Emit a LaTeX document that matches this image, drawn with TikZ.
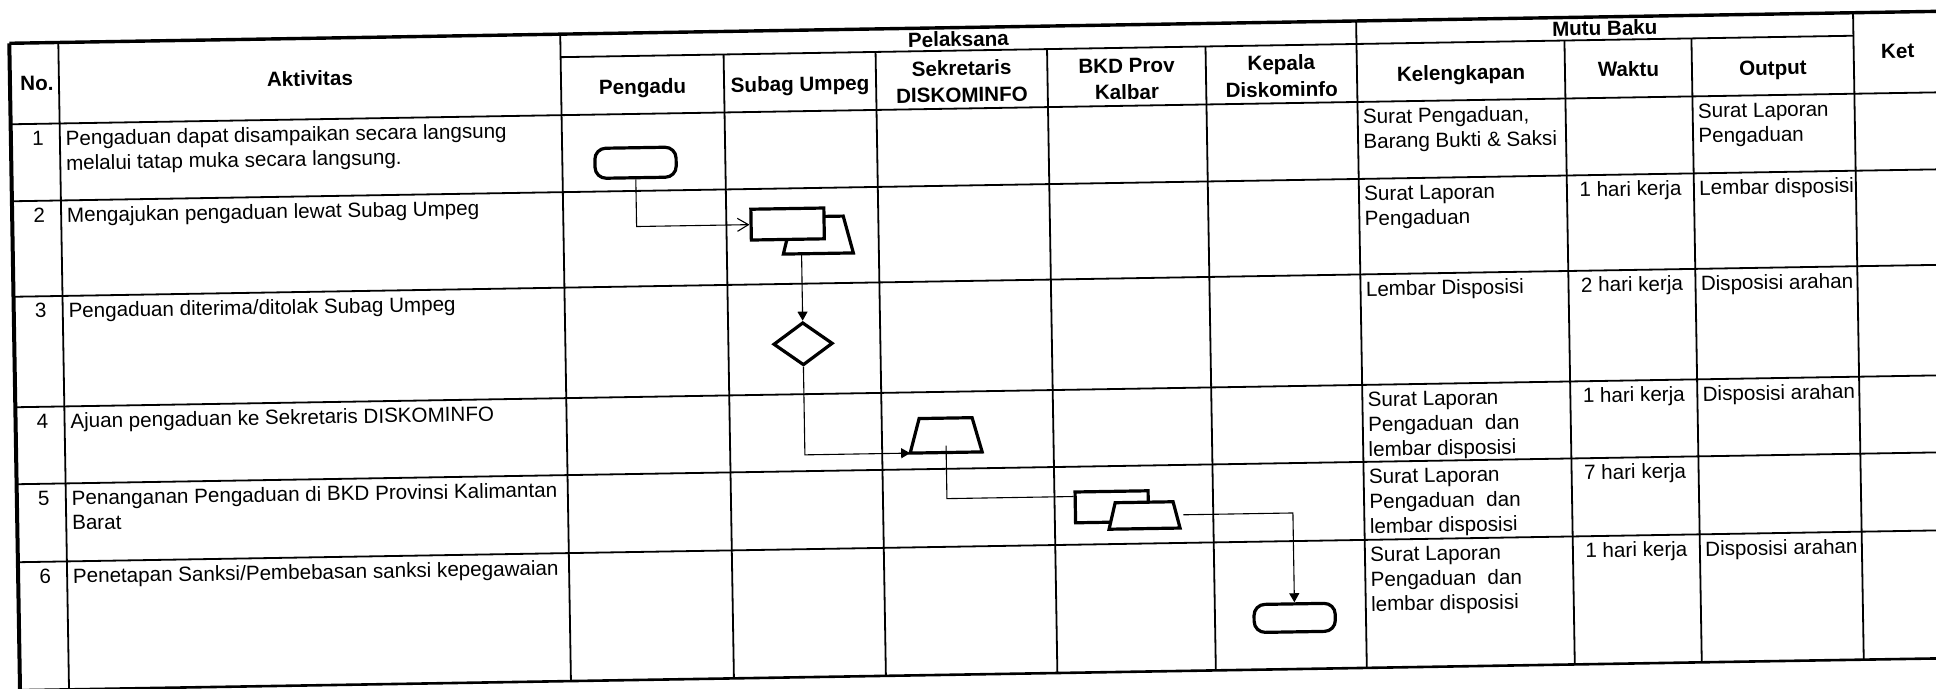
\documentclass[tikz,border=0pt]{standalone}
\usepackage{fontspec}
\setmainfont{Liberation Sans}
\usetikzlibrary{shapes.geometric,arrows.meta,calc}
\newcommand\celltxt{\fontsize{10.3}{12.4}\selectfont}
\newcommand\hdrtxt{\fontsize{10.3}{13.3}\selectfont\bfseries}
\begin{document}
\begin{tikzpicture}[x=0.5pt,y=-0.5pt,
  grid/.style={line width=0.9pt},
  shp/.style={draw,line width=1.6pt,fill=white,inner sep=0pt},
  shpline/.style={draw,line width=1.6pt,fill=white},
  term/.style={shp,rectangle,rounded corners=5.5pt,minimum width=40.6pt,minimum height=15pt},
  docbox/.style={shp,rectangle,minimum width=36.5pt,minimum height=15.4pt},
  tbox/.style={rectangle,inner sep=0pt,outer sep=0pt},
  decision/.style={shp,diamond,minimum width=29.7pt,minimum height=21.5pt},
  conn/.style={line width=0.55pt},
  openarr/.style={conn,-{Straight Barb[length=5.5pt,width=6.5pt]}},
  fillarr/.style={conn,-{Triangle[length=4.5pt,width=5pt]}},
  cell/.style={anchor=north west,inner sep=0pt,align=left,font=\celltxt},
  ctr/.style={anchor=base,inner sep=0pt,font=\celltxt},
  hdr/.style={anchor=base,inner sep=0pt,font=\hdrtxt},
  hdrtwo/.style={anchor=north,inner sep=0pt,align=center,font=\hdrtxt}]
\useasboundingbox (0,0) rectangle (1936,689);
\fill[white] (0,0) rectangle (1936,689);
\clip (0,0) rectangle (1936,689);
\begin{scope}[shift={(9.3,43.3)},rotate=0.95,transform shape]
  % ---------- table grid ----------
  \draw[line width=2pt] (0,0) -- (0,647);
  \draw[line width=1.7pt] (0,0) -- (1950,0);
  \draw[line width=1.3pt] (0,647) -- (1950,647);
  \foreach \c in {49,551,1347,1844} \draw[grid] (\c,0) -- (\c,647);
  \foreach \c in {714,866,1037.5,1196,1555,1682} \draw[grid] (\c,23) -- (\c,647);
  \draw[grid] (551,23) -- (1844,23);
  \foreach \r in {81,158,253.5,364,441,519} \draw[grid] (0,\r) -- (1950,\r);

  % ---------- headers ----------
  \node[hdr] (hno) at (27,47.5) {No.};
  \node[hdr] (hakt) at (300,47.5) {Aktivitas};
  \node[hdr] (hpel) at (949,19) {Pelaksana};
  \node[hdr] (hmutu) at (1595.5,18.5) {Mutu Baku};
  \node[hdr] (hket) at (1888,46) {Ket};
  \node[hdr] (hpgd) at (632.5,61) {Pengadu};
  \node[hdr] (hsub) at (790,61) {Subag Umpeg};
  \node[hdrtwo] (hsek) at (951.75,28.9) {\strut Sekretaris\\DISKOMINFO};
  \node[hdrtwo] (hbkd) at (1116.75,28.9) {\strut BKD Prov\\Kalbar};
  \node[hdrtwo] (hkep) at (1271.5,28.9) {\strut Kepala\\Diskominfo};
  \node[hdr] (hkel) at (1451,61) {Kelengkapan};
  \node[hdr] (hwak) at (1618.5,60) {Waktu};
  \node[hdr] (hout) at (1763,61) {Output};

  % ---------- row numbers ----------
  \node[ctr] (n1) at (27,102.5) {1};
  \node[ctr] (n2) at (27,179.5) {2};
  \node[ctr] (n3) at (27,275) {3};
  \node[ctr] (n4) at (27,385.5) {4};
  \node[ctr] (n5) at (27,462.5) {5};
  \node[ctr] (n6) at (27,540.5) {6};

  % ---------- activities ----------
  \node[cell] (a1) at (54.5,85.1) {\strut Pengaduan dapat disampaikan secara langsung\\melalui tatap muka secara langsung.};
  \node[cell] (a2) at (54.5,162.1) {\strut Mengajukan pengaduan lewat Subag Umpeg};
  \node[cell] (a3) at (54.5,257.6) {\strut Pengaduan diterima/ditolak Subag Umpeg};
  \node[cell] (a4) at (54.5,368.1) {\strut Ajuan pengaduan ke Sekretaris DISKOMINFO};
  \node[cell] (a5) at (54.5,445.1) {\strut Penanganan Pengaduan di BKD Provinsi Kalimantan\\Barat};
  \node[cell] (a6) at (54.5,523.1) {\strut Penetapan Sanksi/Pembebasan sanksi kepegawaian};

  % ---------- Kelengkapan ----------
  \node[cell] (k1) at (1352,85.1) {\strut Surat Pengaduan,\\Barang Bukti \& Saksi};
  \node[cell] (k2) at (1352,162.1) {\strut Surat Laporan\\Pengaduan};
  \node[cell] (k3) at (1352,257.6) {\strut Lembar Disposisi};
  \node[cell] (k4) at (1352,368.1) {\strut Surat Laporan\\Pengaduan\ \ dan\\lembar disposisi};
  \node[cell] (k5) at (1352,445.1) {\strut Surat Laporan\\Pengaduan\ \ dan\\lembar disposisi};
  \node[cell] (k6) at (1352,523.1) {\strut Surat Laporan\\Pengaduan\ \ dan\\lembar disposisi};

  % ---------- Waktu ----------
  \node[ctr] (w2) at (1618.5,179.5) {1 hari kerja};
  \node[ctr] (w3) at (1618.5,275) {2 hari kerja};
  \node[ctr] (w4) at (1618.5,385.5) {1 hari kerja};
  \node[ctr] (w5) at (1618.5,462.5) {7 hari kerja};
  \node[ctr] (w6) at (1618.5,540.5) {1 hari kerja};

  % ---------- Output ----------
  \node[cell] (o1) at (1687,85.1) {\strut Surat Laporan\\Pengaduan};
  \node[cell] (o2) at (1687,162.1) {\strut Lembar disposisi};
  \node[cell] (o3) at (1687,257.6) {\strut Disposisi arahan};
  \node[cell] (o4) at (1687,368.1) {\strut Disposisi arahan};
  \node[cell] (o6) at (1687,523.1) {\strut Disposisi arahan};

  % ---------- flow shapes ----------
  \node[term] (t1) at (624.2,129.8) {};
  % trapezoid behind the document box (row 2)
  \node[tbox,minimum width=35pt,minimum height=18.5pt] (tz2) at (805.5,205.1) {};
  \draw[shpline] (tz2.south west) -- ($(tz2.north west)!0.136!(tz2.north east)$)
      -- ($(tz2.north east)!0.136!(tz2.north west)$) -- (tz2.south east) -- cycle;
  \node[docbox] (r2) at (775.2,193.6) {};
  \node[decision] (d3) at (788.7,313.6) {};
  % Sekretaris trapezoid (row 4)
  \node[tbox,minimum width=36pt,minimum height=17.2pt] (sk4) at (930,407.5) {};
  \draw[shpline] (sk4.south west) -- ($(sk4.north west)!0.132!(sk4.north east)$)
      -- ($(sk4.north east)!0.132!(sk4.north west)$) -- (sk4.south east) -- cycle;
  % BKD document box and trapezoid (row 5)
  \node[docbox] (b5r) at (1094.7,481.7) {};
  \node[tbox,minimum width=35.5pt,minimum height=13.2pt] (b5t) at (1127.1,490.9) {};
  \draw[shpline] (b5t.south west) -- ($(b5t.north west)!0.092!(b5t.north east)$)
      -- ($(b5t.north east)!0.092!(b5t.north west)$) -- (b5t.south east) -- cycle;
  \node[term,minimum height=14pt] (t6) at (1275.7,595.8) {};

  % ---------- connectors ----------
  \draw[openarr] (t1.south) |- (r2.west);
  \draw[fillarr] (d3.north |- tz2.south) -- (d3.north);
  \draw[fillarr] (d3.south) |- (sk4.south west);
  \draw[conn] ($(sk4.south)!3.5pt!(sk4.center)$) |- ($(b5r.north west)!0.18!(b5r.south west)$);
  \draw[fillarr,shorten <=1.8pt] (b5t.east) -| (t6.north);
\end{scope}
\end{tikzpicture}
\end{document}
